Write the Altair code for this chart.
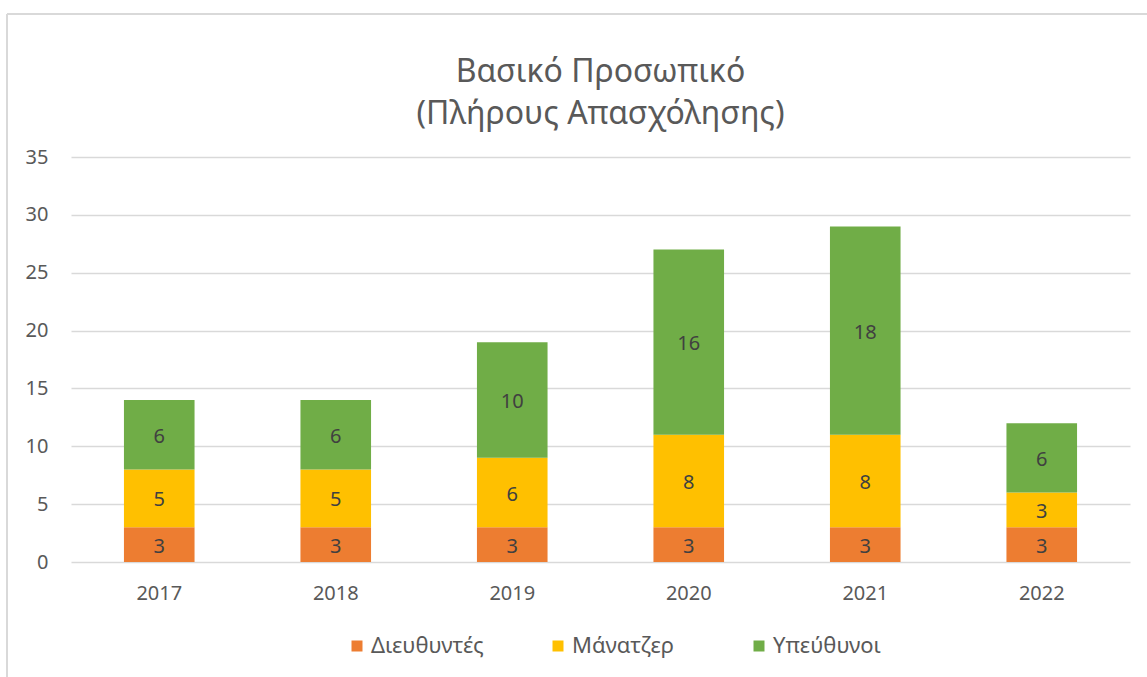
import altair as alt
import pandas as pd

years = ["2017", "2018", "2019", "2020", "2021", "2022"]
series = ["Διευθυντές", "Μάνατζερ", "Υπεύθυνοι"]
directors = [3, 3, 3, 3, 3, 3]
managers = [5, 5, 6, 8, 8, 3]
supervisors = [6, 6, 10, 16, 18, 6]
colors = ["#ED7D31", "#FFC000", "#70AD47"]
y_ticks = [0, 5, 10, 15, 20, 25, 30, 35]

rows = []
for i, y in enumerate(years):
    for k, (name, vals) in enumerate(zip(series, [directors, managers, supervisors])):
        rows.append({"year": y, "series": name, "value": vals[i], "order": k})
df = pd.DataFrame(rows)

FONT = "Noto Sans"
TXT = "#595959"

base = alt.Chart(df).transform_stack(
    stack="value", groupby=["year"], as_=["v0", "v1"],
    sort=[alt.SortField("order", order="ascending")]
).transform_calculate(mid="(datum.v0 + datum.v1) / 2")

xenc = alt.X("year:N", sort=years, title=None,
             scale=alt.Scale(paddingInner=0.6, paddingOuter=0.3),
             axis=alt.Axis(labelAngle=0, domain=False, ticks=False, labelPadding=21,
                           labelFontSize=20, labelColor=TXT, labelFont=FONT))

bars = base.mark_bar().encode(
    x=xenc,
    y=alt.Y("v0:Q", title=None,
            scale=alt.Scale(domain=[0, 35], nice=False),
            axis=alt.Axis(values=y_ticks, domain=False, ticks=False, labelPadding=23,
                          labelFontSize=20, labelColor=TXT, labelFont=FONT,
                          grid=True, gridColor="#D9D9D9", gridWidth=1.3)),
    y2="v1:Q",
    color=alt.Color("series:N", sort=series,
                    scale=alt.Scale(domain=series, range=colors),
                    legend=alt.Legend(title=None, orient="none", direction="horizontal",
                                      legendX=275, legendY=478,
                                      symbolType="square", symbolSize=121,
                                      symbolStrokeWidth=0,
                                      labelFontSize=22, labelColor=TXT, labelFont=FONT,
                                      gridAlign="all", columnPadding=63, labelOffset=3)),
)

labels = base.mark_text(fontSize=20, color="#404040", font=FONT, dy=2).encode(
    x=alt.X("year:N", sort=years),
    y=alt.Y("mid:Q"),
    text=alt.Text("value:Q"),
)

frame_left = alt.Chart(df).mark_rule(color="#D9D9D9", strokeWidth=1.5).encode(
    x=alt.value(-64), y=alt.value(-143), y2=alt.value(540))
frame_top = alt.Chart(df).mark_rule(color="#D9D9D9", strokeWidth=1.5).encode(
    x=alt.value(-64), x2=alt.value(1100), y=alt.value(-143))

chart = alt.layer(frame_left, frame_top, bars, labels).properties(
    width=1059, height=405,
    background="white",
    autosize=alt.AutoSizeParams(type="none"),
    padding={"left": 71, "top": 157, "right": 17, "bottom": 115},
    title=alt.Title(["Βασικό Προσωπικό", "(Πλήρους Απασχόλησης)"], fontSize=32,
                    font=FONT, color=TXT, fontWeight="normal", anchor="middle",
                    frame="group", offset=-118, lineHeight=42),
).configure_view(stroke=None)

chart.save("out.html", embed_options={"renderer": "svg", "actions": False})
